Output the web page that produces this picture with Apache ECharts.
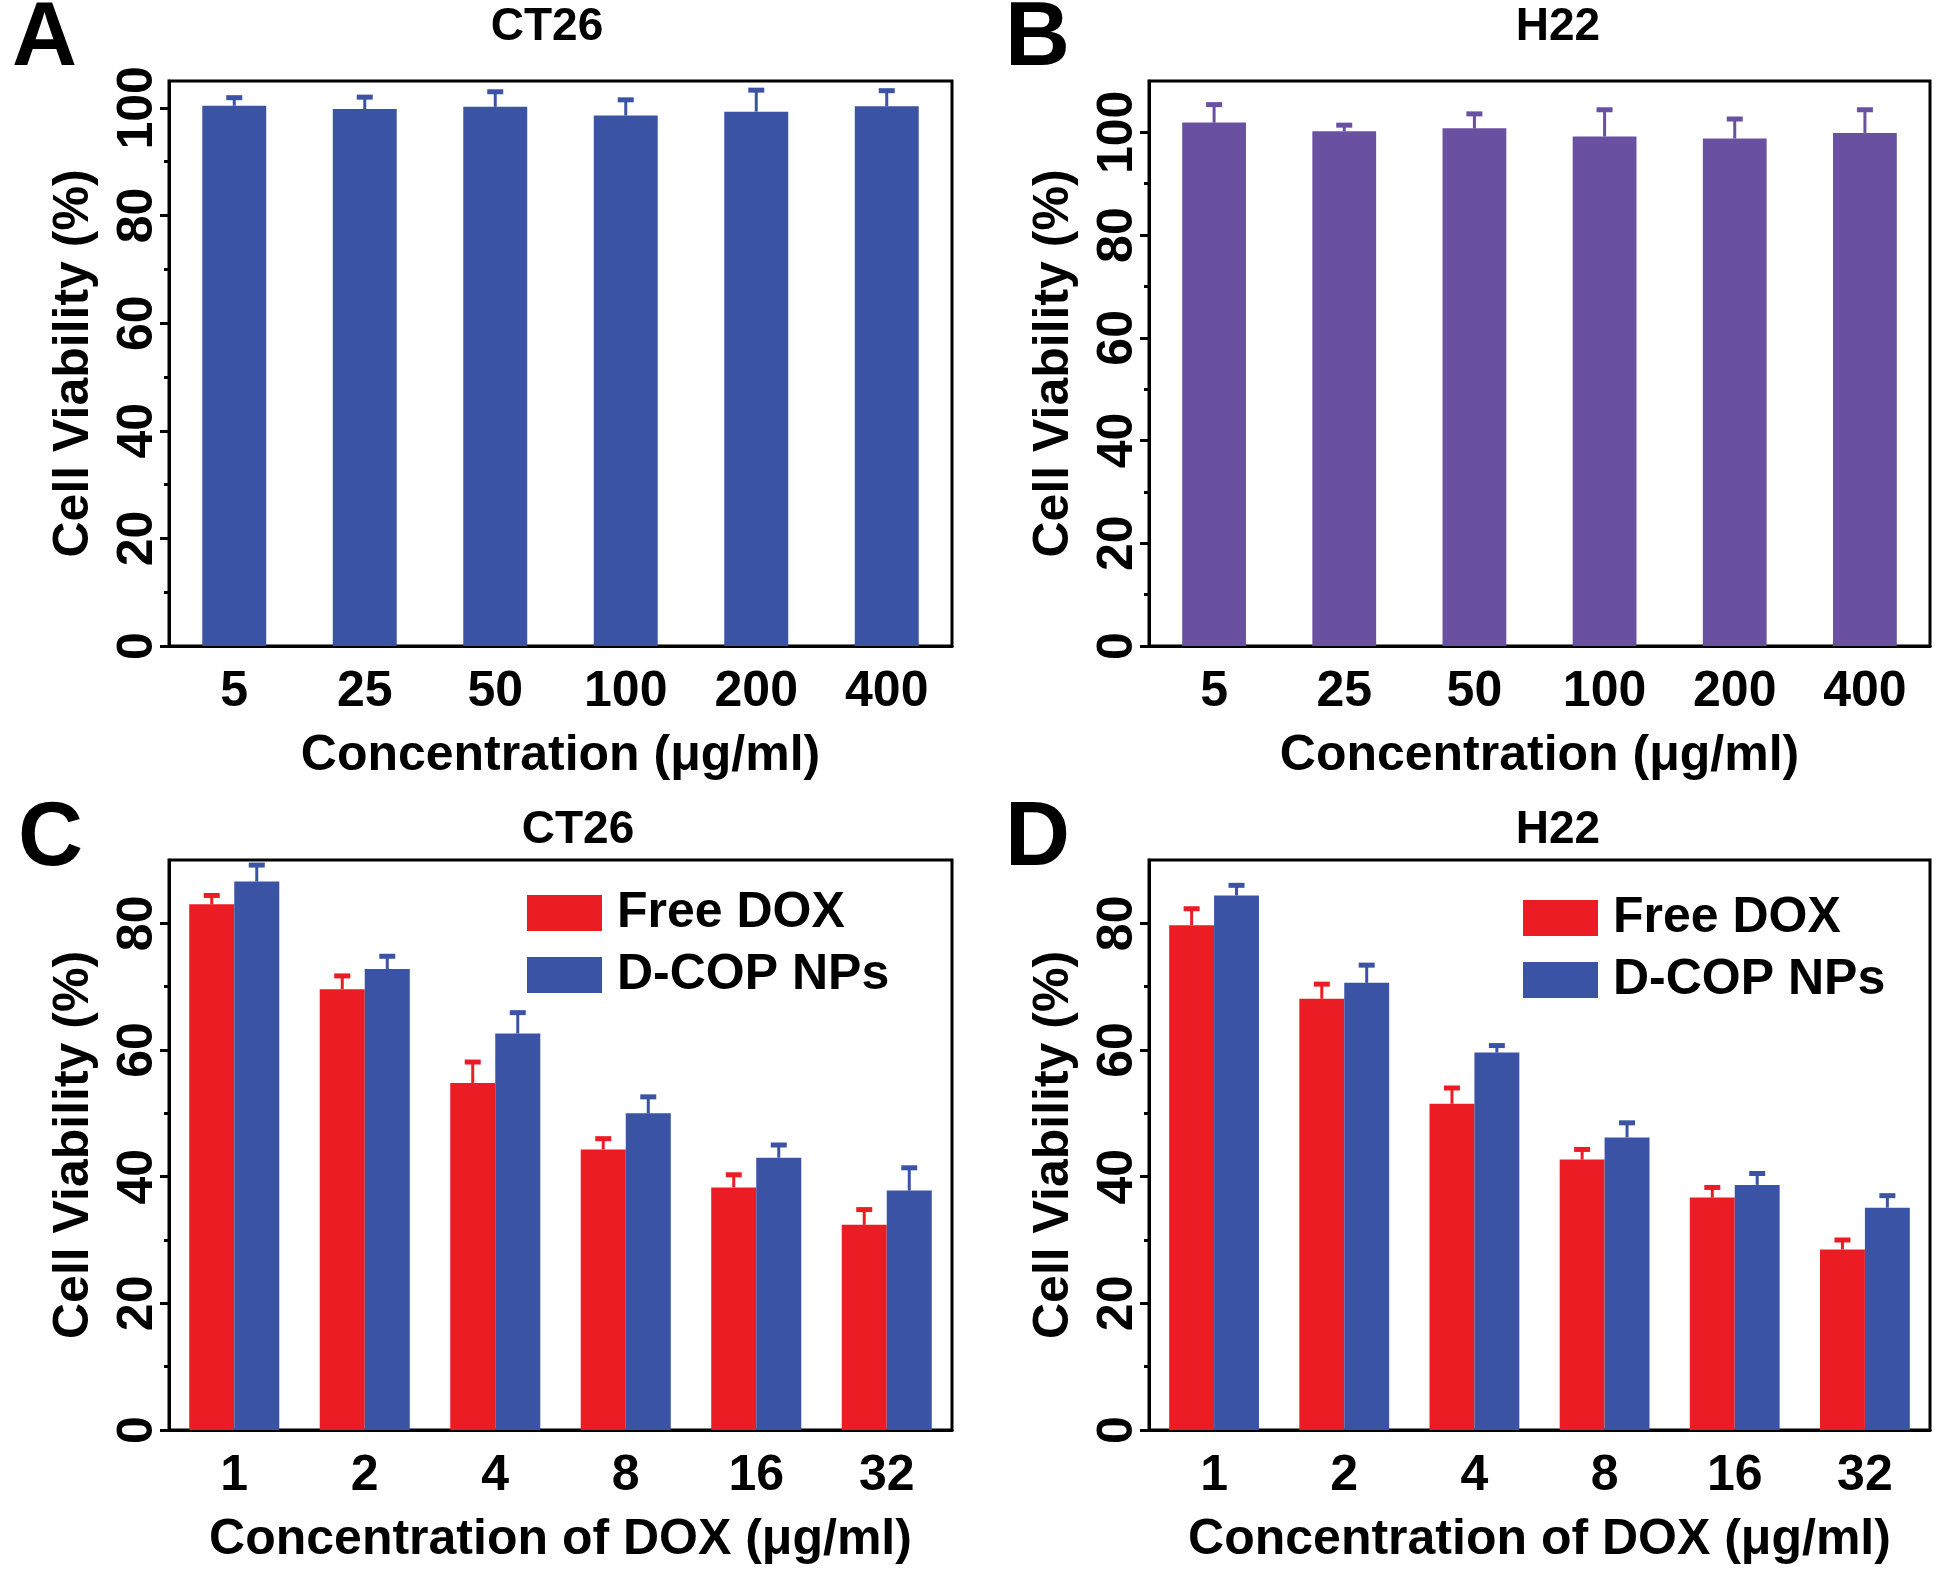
<!DOCTYPE html>
<html><head><meta charset="utf-8">
<script src="https://cdn.jsdelivr.net/npm/echarts@6/dist/echarts.min.js"></script>
<style>html,body{margin:0;padding:0;background:#fff}#c{width:1950px;height:1582px}</style>
</head><body><div id="c"></div>
<script>
// ---- data ----
const concAB = ['5', '25', '50', '100', '200', '400'];
const ct26Viab = [100.4, 99.8, 100.2, 98.6, 99.3, 100.3];
const ct26Err = [1.5, 2.2, 2.8, 2.9, 4.0, 2.9];
const h22Viab = [101.9, 100.2, 100.8, 99.2, 98.8, 99.9];
const h22Err = [3.5, 1.2, 2.8, 5.2, 3.8, 4.5];

const concDOX = ['1', '2', '4', '8', '16', '32'];
const freeDoxCT26 = [83.0, 69.6, 54.8, 44.3, 38.3, 32.4];
const freeDoxCT26Err = [1.4, 2.1, 3.3, 1.7, 2.0, 2.4];
const dcopCT26 = [86.6, 72.8, 62.6, 50.0, 43.0, 37.8];
const dcopCT26Err = [2.6, 2.0, 3.3, 2.6, 2.0, 3.6];
const freeDoxH22 = [79.7, 68.1, 51.5, 42.7, 36.7, 28.5];
const freeDoxH22Err = [2.6, 2.3, 2.5, 1.6, 1.6, 1.5];
const dcopH22 = [84.4, 70.6, 59.6, 46.2, 38.7, 35.1];
const dcopH22Err = [1.6, 2.8, 1.1, 2.3, 1.8, 1.9];

const majorTicks = [0, 20, 40, 60, 80, 100];
const minorTicksAB = [10, 30, 50, 70, 90];
const majorTicksCD = [0, 20, 40, 60, 80];
const minorTicksCD = [10, 30, 50, 70];

// ---- style ----
const FONT = 'Liberation Sans, Arial, sans-serif';
const BLUE = '#3a53a4', PURPLE = '#6a50a1', RED = '#ec1c24';
const txt = (size) => ({ fontSize: size, fontWeight: 'bold', fontFamily: FONT, color: '#000' });

const grids = [
  { left: 169, top: 81, width: 783, height: 565 },
  { left: 1149, top: 81, width: 781, height: 565 },
  { left: 169, top: 860, width: 783, height: 570 },
  { left: 1149, top: 860, width: 781, height: 570 }
].map(g => Object.assign(g, { show: true, borderColor: '#000', borderWidth: 3, containLabel: false }));

function xAx(gi, cats, name) {
  return {
    type: 'category', gridIndex: gi, data: cats,
    axisLine: { lineStyle: { color: '#000', width: 3 } },
    axisTick: { alignWithLabel: true, length: 9, lineStyle: { color: '#000', width: 3 } },
    axisLabel: Object.assign({ margin: 21 }, txt(50)),
    name: name, nameLocation: 'middle', nameGap: 85, nameTextStyle: txt(50)
  };
}
function yAxMain(gi, max, ticks) {
  return {
    type: 'value', gridIndex: gi, min: 0, max: max, position: 'left',
    axisLine: { show: true, lineStyle: { color: '#000', width: 3 } },
    axisTick: { show: true, length: 9, lineStyle: { color: '#000', width: 3 }, customValues: ticks },
    axisLabel: Object.assign({ rotate: 90, margin: 6, customValues: ticks }, txt(50)),
    splitLine: { show: false },
    name: 'Cell Viability (%)', nameLocation: 'middle', nameGap: 70, nameTextStyle: txt(50)
  };
}
function yAxMinor(gi, max, ticks) {
  return {
    type: 'value', gridIndex: gi, min: 0, max: max, position: 'left',
    axisLine: { show: false },
    axisTick: { show: true, length: 5, lineStyle: { color: '#000', width: 3 }, customValues: ticks },
    axisLabel: { show: false, customValues: ticks },
    splitLine: { show: false }
  };
}

function errSeries(axisIdx, yIdx, vals, errs, color, offsetFrac) {
  return {
    type: 'custom', xAxisIndex: axisIdx, yAxisIndex: yIdx, z: 5, silent: true,
    data: vals.map((v, i) => [i, v, errs[i]]),
    renderItem: function (params, api) {
      const idx = api.value(0), v = api.value(1), e = api.value(2);
      const base = api.coord([idx, v]);
      const top = api.coord([idx, v + e]);
      const bw = api.size([1, 0])[0];
      const x = base[0] + offsetFrac * bw;
      return {
        type: 'group', children: [
          { type: 'line', shape: { x1: x, y1: base[1], x2: x, y2: top[1] }, style: { stroke: color, lineWidth: 3 } },
          { type: 'line', shape: { x1: x - 8, y1: top[1], x2: x + 8, y2: top[1] }, style: { stroke: color, lineWidth: 5 } }
        ]
      };
    }
  };
}

const xAxes = [
  xAx(0, concAB, 'Concentration (μg/ml)'),
  xAx(1, concAB, 'Concentration (μg/ml)'),
  xAx(2, concDOX, 'Concentration of DOX (μg/ml)'),
  xAx(3, concDOX, 'Concentration of DOX (μg/ml)')
];
const yAxes = [
  yAxMain(0, 105, majorTicks), yAxMinor(0, 105, minorTicksAB),
  yAxMain(1, 110, majorTicks), yAxMinor(1, 110, minorTicksAB),
  yAxMain(2, 90, majorTicksCD), yAxMinor(2, 90, minorTicksCD),
  yAxMain(3, 90, majorTicksCD), yAxMinor(3, 90, minorTicksCD)
];

const series = [
  { type: 'bar', name: 'CT26', xAxisIndex: 0, yAxisIndex: 0, data: ct26Viab, barWidth: '49%', itemStyle: { color: BLUE } },
  errSeries(0, 0, ct26Viab, ct26Err, BLUE, 0),
  { type: 'bar', name: 'H22', xAxisIndex: 1, yAxisIndex: 2, data: h22Viab, barWidth: '49%', itemStyle: { color: PURPLE } },
  errSeries(1, 2, h22Viab, h22Err, PURPLE, 0),

  { type: 'bar', name: 'Free DOX', xAxisIndex: 2, yAxisIndex: 4, data: freeDoxCT26, barWidth: '34.5%', barGap: '0%', itemStyle: { color: RED } },
  { type: 'bar', name: 'D-COP NPs', xAxisIndex: 2, yAxisIndex: 4, data: dcopCT26, barWidth: '34.5%', barGap: '0%', itemStyle: { color: BLUE } },
  errSeries(2, 4, freeDoxCT26, freeDoxCT26Err, RED, -0.1725),
  errSeries(2, 4, dcopCT26, dcopCT26Err, BLUE, 0.1725),

  { type: 'bar', name: 'Free DOX', xAxisIndex: 3, yAxisIndex: 6, data: freeDoxH22, barWidth: '34.5%', barGap: '0%', itemStyle: { color: RED } },
  { type: 'bar', name: 'D-COP NPs', xAxisIndex: 3, yAxisIndex: 6, data: dcopH22, barWidth: '34.5%', barGap: '0%', itemStyle: { color: BLUE } },
  errSeries(3, 6, freeDoxH22, freeDoxH22Err, RED, -0.1725),
  errSeries(3, 6, dcopH22, dcopH22Err, BLUE, 0.1725)
];

const legendBase = {
  data: ['Free DOX', 'D-COP NPs'], orient: 'vertical', icon: 'rect',
  itemWidth: 75, itemHeight: 36, itemGap: 12, padding: 0, selectedMode: false,
  textStyle: Object.assign({ padding: [0, 0, 0, 10] }, txt(50))
};
const legends = [
  Object.assign({}, legendBase, { left: 527, top: 888 }),
  Object.assign({}, legendBase, { left: 1523, top: 893 })
];

function label(text, x, y, size, align) {
  return { type: 'text', x: x, y: y, z: 10,
    style: { text: text, font: 'bold ' + size + 'px ' + FONT, fill: '#000', align: align, verticalAlign: 'middle' } };
}
const graphics = [
  label('A', 12, 40, 90, 'left'), label('B', 1005, 40, 90, 'left'),
  label('C', 18, 840, 90, 'left'), label('D', 1005, 840, 90, 'left'),
  label('CT26', 547, 27, 46, 'center'), label('H22', 1558, 27, 46, 'center'),
  label('CT26', 578, 830, 46, 'center'), label('H22', 1558, 830, 46, 'center')
];

const chart = echarts.init(document.getElementById('c'), null, { renderer: 'canvas' });
chart.setOption({
  animation: false,
  backgroundColor: '#fff',
  grid: grids, xAxis: xAxes, yAxis: yAxes, series: series,
  legend: legends, graphic: graphics
});
</script>
</body></html>
